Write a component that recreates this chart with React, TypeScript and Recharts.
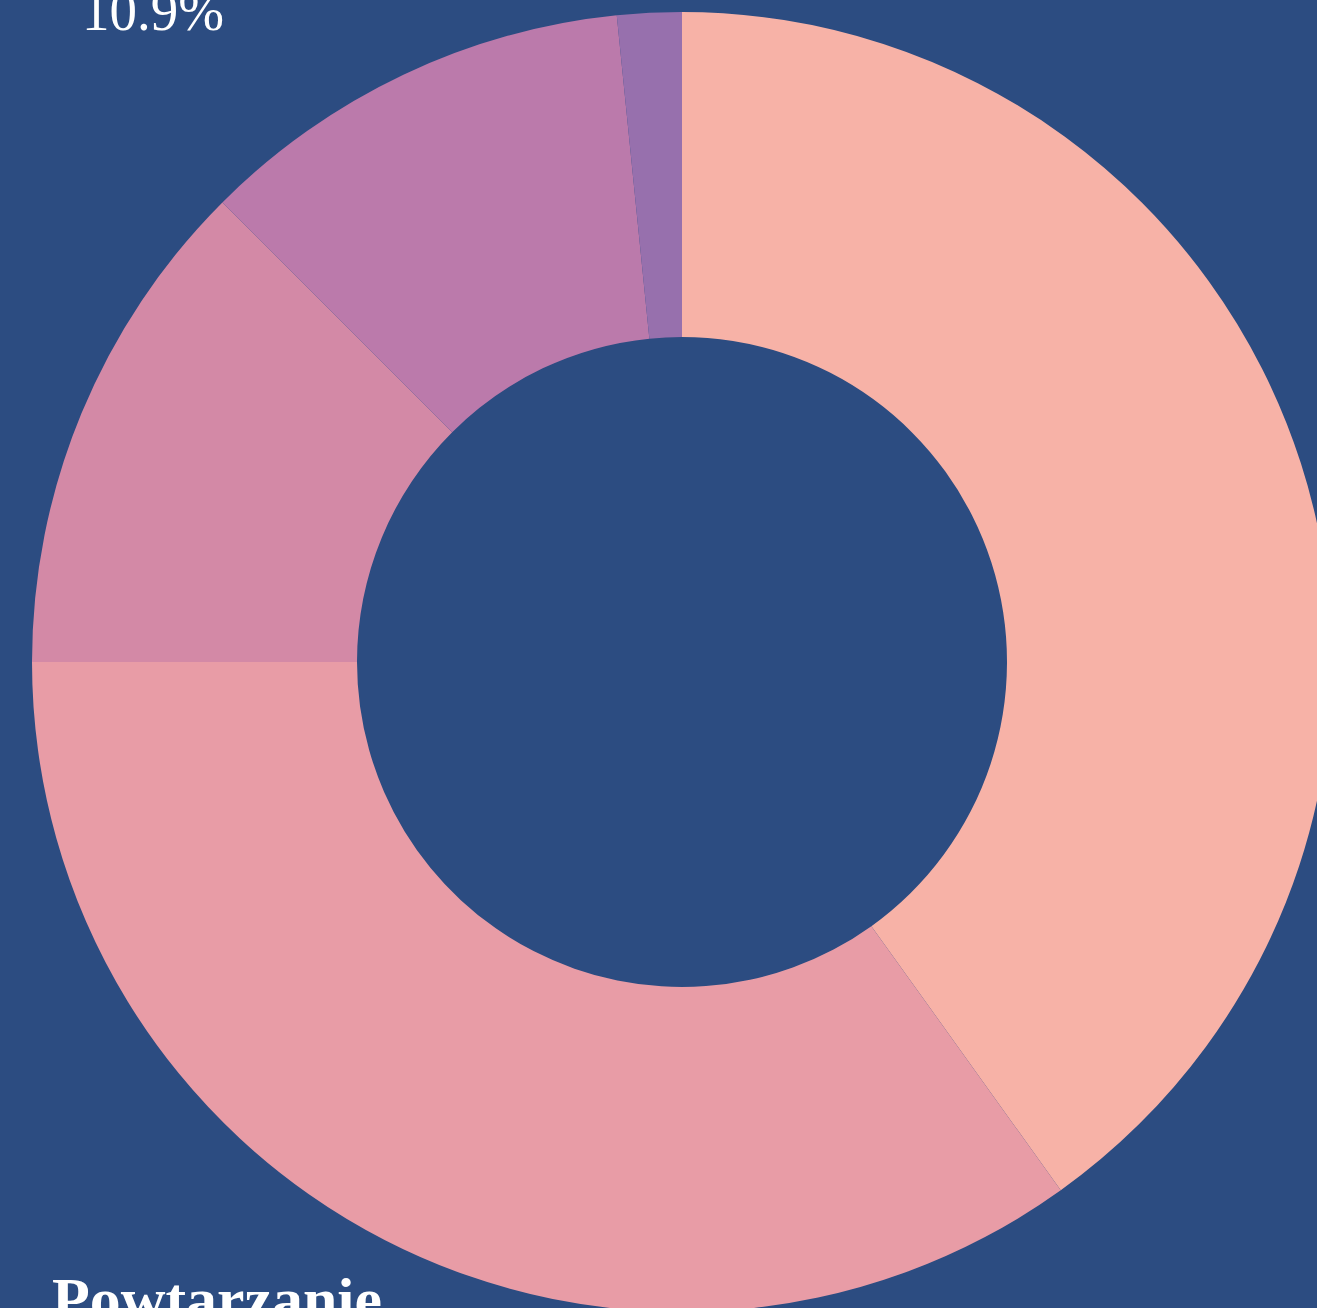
import React from "react";
import { PieChart, Pie, Cell } from "recharts";

const categories = ["A", "Powtarzanie", "C", "D", "E"];
const values = [40.1, 34.9, 12.5, 10.9, 1.6];
const colors = ["#f7b2a7", "#e89ca6", "#d389a6", "#bb7aab", "#9770ad"];
const shownLabels = ["", "Powtarzanie", "", "10.9%", ""];

const data = categories.map((name, i) => ({ name, value: values[i] }));

const BG = "#2c4c81";

const renderLabel = (props: any) => {
  const { index, cx, cy } = props;
  if (index === 3) {
    return (
      <text
        key="l3"
        x={cx - 529}
        y={cy - 632}
        textAnchor="middle"
        fill="#ffffff"
        fontFamily="'Liberation Serif', serif"
        fontSize={56}
        textLength={142}
        lengthAdjust="spacingAndGlyphs"
      >
        {shownLabels[3]}
      </text>
    );
  }
  if (index === 1) {
    return (
      <text
        key="l1"
        x={cx - 630}
        y={cy + 657}
        textAnchor="start"
        fill="#ffffff"
        fontFamily="'Liberation Serif', serif"
        fontWeight="bold"
        fontSize={60}
        textLength={330}
        lengthAdjust="spacingAndGlyphs"
      >
        {shownLabels[1]}
      </text>
    );
  }
  return null;
};

export default function App() {
  return (
    <div
      style={{
        position: "fixed",
        left: 0,
        top: 0,
        width: 1317,
        height: 1308,
        background: BG,
        overflow: "hidden",
      }}
    >
      <PieChart width={1317} height={1308} margin={{ top: 0, right: 0, bottom: 0, left: 0 }}>
        <Pie
          data={data}
          dataKey="value"
          nameKey="name"
          cx={682}
          cy={662}
          innerRadius={325}
          outerRadius={650}
          startAngle={90}
          endAngle={-270}
          stroke="none"
          labelLine={false}
          label={renderLabel}
          isAnimationActive={false}
        >
          {data.map((d, i) => (
            <Cell key={d.name} fill={colors[i]} />
          ))}
        </Pie>
      </PieChart>
    </div>
  );
}
